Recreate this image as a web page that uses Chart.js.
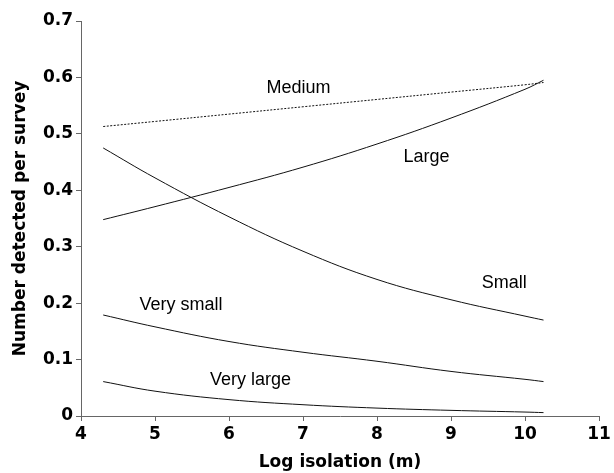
<!DOCTYPE html>
<html>
<head>
<meta charset="utf-8">
<script src="https://cdn.jsdelivr.net/npm/chart.js@4.4.1/dist/chart.umd.min.js"></script>
<style>
  html, body { margin: 0; padding: 0; background: #fff; }
  #wrap { width: 614px; height: 473px; }
</style>
</head>
<body>
<div id="wrap"><canvas id="grafico" width="614" height="473"></canvas></div>
<script>
// valores
const logIsolamento = [4.3, 5, 6, 7, 8, 9, 10, 10.25];
const medium    = [0.513, 0.522, 0.535, 0.548, 0.561, 0.574, 0.587, 0.591];
const large     = [0.348, 0.371, 0.405, 0.441, 0.482, 0.528, 0.579, 0.595];
const small     = [0.475, 0.422, 0.353, 0.292, 0.242, 0.206, 0.177, 0.170];
const verySmall = [0.179, 0.158, 0.132, 0.113, 0.097, 0.079, 0.065, 0.061];
const veryLarge = [0.061, 0.044, 0.029, 0.020, 0.014, 0.010, 0.007, 0.006];

const yTicks = [0, 0.1, 0.2, 0.3, 0.4, 0.5, 0.6, 0.7];
const xTicks = [4, 5, 6, 7, 8, 9, 10, 11];

// rótulos das curvas (em coordenadas de dados)
const rotulos = [
  { texto: 'Medium', x: 6.94, y: 0.581 },
  { texto: 'Large', x: 8.67, y: 0.459 },
  { texto: 'Small', x: 9.72, y: 0.236 },
  { texto: 'Very small', x: 5.35, y: 0.197 },
  { texto: 'Very large', x: 6.29, y: 0.064 }
];

const FONTE_EIXO = '"DejaVu Sans", Verdana, sans-serif';
const FONTE_ROTULO = '"Liberation Sans", Arial, Helvetica, sans-serif';

function pontos(ys) {
  return logIsolamento.map((x, i) => ({ x, y: ys[i] }));
}

function serie(label, ys, tracejado) {
  return {
    label,
    data: pontos(ys),
    borderColor: '#111',
    borderWidth: 1,
    borderDash: tracejado ? [2, 1.5] : [],
    pointRadius: 0,
    fill: false,
    tension: 0.4
  };
}

const pluginRotulos = {
  id: 'rotulos',
  afterDatasetsDraw(chart) {
    const { ctx, scales: { x, y } } = chart;
    ctx.save();
    ctx.fillStyle = '#000';
    ctx.font = '18px ' + FONTE_ROTULO;
    ctx.textAlign = 'center';
    ctx.textBaseline = 'middle';
    rotulos.forEach(r => {
      ctx.fillText(r.texto, x.getPixelForValue(r.x), y.getPixelForValue(r.y));
    });
    ctx.restore();
  }
};

const fonteEixo = { family: FONTE_EIXO, size: 17, weight: 'bold' };

new Chart(document.getElementById('grafico').getContext('2d'), {
  type: 'line',
  data: {
    datasets: [
      serie('Medium', medium, true),
      serie('Large', large),
      serie('Small', small),
      serie('Very small', verySmall),
      serie('Very large', veryLarge)
    ]
  },
  options: {
    responsive: false,
    animation: false,
    layout: { padding: { top: 21, right: 15, left: 0, bottom: 0 } },
    plugins: { legend: { display: false }, tooltip: { enabled: false } },
    scales: {
      x: {
        type: 'linear',
        min: 4, max: 11,
        afterBuildTicks: s => { s.ticks = xTicks.map(v => ({ value: v })); },
        afterFit: s => { s.height = 57; },
        grid: { drawOnChartArea: false, tickLength: 5, color: '#666' },
        border: { color: '#666', width: 1 },
        ticks: { color: '#000', padding: 3, font: fonteEixo },
        title: { display: true, text: 'Log isolation (m)', color: '#000', padding: { top: 0, bottom: 0 },
                 font: fonteEixo }
      },
      y: {
        min: 0, max: 0.7,
        afterBuildTicks: s => { s.ticks = yTicks.map(v => ({ value: v })); },
        afterFit: s => { s.width = 81; },
        grid: { drawOnChartArea: false, tickLength: 5, color: '#666' },
        border: { color: '#666', width: 1 },
        ticks: { color: '#000', padding: 3, font: fonteEixo,
                 callback: v => v === 0 ? '0' : v.toFixed(1) },
        title: { display: true, text: 'Number detected per survey', color: '#000', padding: { top: 10, bottom: 0 },
                 font: fonteEixo }
      }
    }
  },
  plugins: [pluginRotulos]
});
</script>
</body>
</html>
